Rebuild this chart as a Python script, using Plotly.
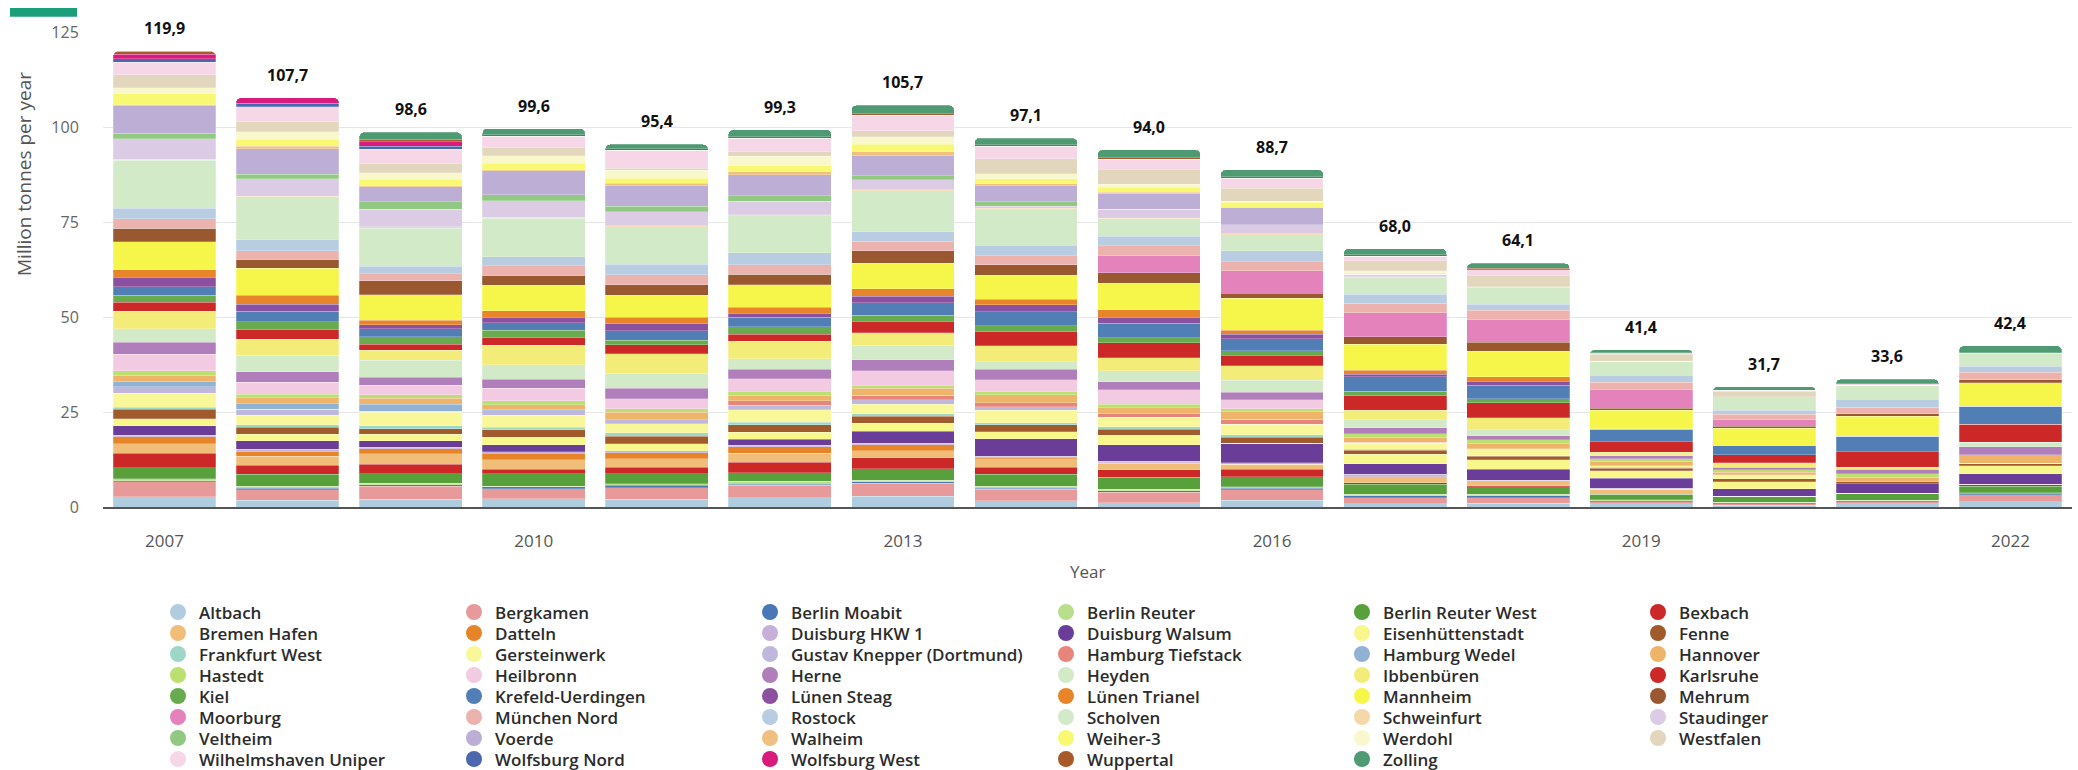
import plotly.graph_objects as go

years = [2007, 2008, 2009, 2010, 2011, 2012, 2013, 2014, 2015, 2016, 2017, 2018, 2019, 2020, 2021, 2022]

# Annual CO2 emissions per coal plant, million tonnes
altbach = [2.7, 1.8, 2.0, 2.2, 2.0, 2.5, 2.8, 1.6, 1.1, 1.8, 0.8, 1.0, 0.8, 0.5, 0.8, 1.4]
bergkamen = [3.9, 2.8, 3.5, 2.6, 3.1, 3.2, 3.5, 3.1, 2.8, 2.8, 1.7, 1.5, 0.6, 0.4, 0.6, 1.8]
berlin_moabit = [0.3, 0.3, 0.3, 0.5, 0.6, 0.3, 0.3, 0.3, 0.4, 0.4, 0.5, 0.5, 0.3, 0.2, 0.2, 0.4]
berlin_reuter = [0.5, 0.5, 0.4, 0.2, 0.4, 0.8, 0.4, 0.4, 0.4, 0.3, 0.3, 0.4, 0.2, 0.2, 0.2, 0.2]
berlin_reuter_west = [2.9, 3.2, 2.6, 3.3, 2.6, 2.2, 3.1, 3.2, 3.1, 2.6, 2.7, 1.9, 1.5, 1.5, 1.8, 1.6]
bexbach = [3.9, 2.4, 2.4, 1.2, 1.7, 2.8, 2.8, 1.9, 2.0, 2.0, 0.4, 0.3, 0, 0, 0, 0.6]
bremen_hafen = [2.5, 2.4, 2.8, 2.5, 2.3, 2.4, 1.9, 2.2, 1.7, 1.3, 1.5, 1.3, 1.3, 0, 0, 0]
datteln = [1.8, 1.2, 1.3, 1.6, 1.6, 1.6, 1.6, 0.4, 0.2, 0, 0, 0, 0, 0, 0, 0]
duisburg_hkw1 = [0.4, 0.6, 0.4, 0.4, 0.5, 0.4, 0.4, 0.3, 0.3, 0.4, 0.7, 0.2, 0.2, 0, 0, 0]
duisburg_walsum = [2.5, 2.2, 1.8, 1.9, 0, 1.6, 3.1, 4.6, 4.4, 5.0, 2.8, 2.9, 2.7, 2.0, 2.5, 2.7]
eisenhuettenstadt = [1.8, 1.8, 1.6, 1.9, 1.8, 1.9, 2.2, 1.8, 2.5, 0.2, 2.5, 2.4, 2.0, 1.9, 0, 2.1]
fenne = [2.5, 1.8, 1.5, 2.0, 2.0, 2.0, 1.8, 1.8, 1.5, 1.5, 1.1, 0.9, 0.6, 0.7, 0.6, 0.7]
frankfurt_west = [0.6, 0.7, 0.8, 0.7, 0.9, 0.6, 0.6, 0.6, 0.7, 0.7, 0.2, 0.2, 0.2, 0, 0, 0]
gersteinwerk = [3.7, 2.4, 3.6, 3.2, 2.4, 3.3, 2.5, 3.3, 2.5, 2.8, 1.6, 1.8, 0.5, 1.1, 0, 0]
gustav_knepper = [1.6, 1.6, 0.2, 1.1, 1.1, 1.2, 1.2, 0.9, 0, 0, 0, 0, 0, 0, 0, 0]
hamburg_tiefstack = [0, 0, 0, 0, 0, 1.1, 1.2, 1.1, 1.0, 1.3, 0.2, 0, 0, 0, 0, 0]
hamburg_wedel = [1.5, 1.5, 1.8, 0.3, 0, 0, 0, 0, 0, 0, 0, 0, 0, 0, 0, 0]
hannover = [1.6, 1.6, 1.6, 1.3, 1.9, 1.5, 1.9, 2.0, 1.5, 2.0, 1.3, 1.5, 1.1, 0.7, 1.1, 2.2]
hastedt = [1.1, 0.9, 0.9, 1.1, 0.9, 1.1, 0.7, 0.8, 0.9, 0.7, 1.0, 0.9, 0.7, 0.6, 0.9, 0]
heilbronn = [4.4, 3.1, 2.6, 3.2, 2.7, 3.2, 3.9, 3.2, 3.8, 2.4, 0, 0, 0, 0, 0, 0]
herne = [3.2, 2.8, 2.1, 2.4, 2.8, 2.5, 2.8, 2.8, 2.2, 2.0, 1.5, 1.1, 0.8, 0.7, 1.3, 2.2]
heyden = [3.5, 4.4, 4.4, 3.9, 3.9, 2.8, 3.9, 1.9, 2.8, 3.1, 2.1, 1.5, 0.2, 0, 0, 1.1]
ibbenbueren = [4.6, 4.2, 2.6, 5.1, 5.1, 4.6, 3.2, 4.2, 3.5, 3.9, 2.6, 3.2, 0.7, 1.2, 0.4, 0]
karlsruhe = [2.4, 2.4, 1.6, 2.0, 2.4, 1.9, 3.1, 3.7, 3.9, 2.8, 3.8, 3.9, 2.8, 2.1, 4.1, 4.8]
kiel = [1.8, 2.1, 2.0, 1.9, 1.2, 2.0, 1.6, 1.6, 1.3, 1.1, 1.1, 1.1, 0, 0, 0, 0]
krefeld_uerdingen = [2.3, 2.8, 2.1, 2.0, 2.5, 2.4, 3.2, 3.7, 3.9, 3.2, 3.9, 3.5, 3.2, 2.4, 4.1, 4.7]
luenen_steag = [2.4, 1.9, 1.1, 1.5, 1.8, 1.1, 1.8, 1.8, 1.5, 1.1, 0.6, 1.1, 0, 0, 0, 0]
luenen_trianel = [2.0, 2.3, 1.1, 1.6, 1.7, 1.6, 1.9, 1.5, 2.0, 1.1, 1.1, 1.2, 0.2, 0, 0, 0]
mannheim = [7.4, 7.1, 6.8, 6.8, 5.8, 5.9, 6.8, 6.3, 7.0, 8.4, 6.8, 6.7, 4.8, 4.5, 5.3, 6.2]
mehrum = [3.5, 2.4, 3.6, 2.6, 2.8, 2.8, 3.2, 2.7, 2.8, 1.4, 2.0, 2.4, 0.6, 0.5, 0.6, 0.8]
moorburg = [0, 0, 0, 0, 0, 0, 0, 0, 4.4, 5.9, 6.3, 5.9, 4.8, 1.7, 0, 0]
muenchen_nord = [2.5, 2.3, 1.9, 2.5, 2.6, 2.5, 2.6, 2.4, 2.6, 2.4, 2.5, 2.5, 2.0, 1.5, 1.8, 2.0]
rostock = [2.8, 2.8, 1.9, 2.4, 2.8, 3.1, 2.5, 2.8, 2.5, 2.9, 2.4, 1.6, 1.9, 1.1, 2.0, 1.6]
scholven = [12.7, 11.3, 10.1, 10.1, 9.8, 9.7, 10.7, 9.3, 4.6, 4.2, 4.4, 4.4, 3.6, 3.5, 3.7, 3.2]
schweinfurt = [0.2, 0.2, 0.4, 0.3, 0.3, 0.3, 0.3, 0.4, 0.2, 0.2, 0.2, 0.2, 0, 0, 0, 0]
staudinger = [5.4, 4.6, 4.6, 4.3, 3.7, 3.5, 2.6, 0.6, 2.4, 2.4, 0.6, 0, 0, 0, 0, 0]
veltheim = [1.4, 1.2, 1.9, 1.6, 1.4, 1.5, 1.1, 1.1, 0, 0, 0, 0, 0, 0, 0, 0]
voerde = [7.3, 6.7, 4.0, 6.3, 5.6, 5.5, 5.4, 4.4, 4.2, 4.6, 0, 0, 0, 0, 0, 0]
walheim = [0.3, 0.6, 0.2, 0.3, 0.5, 0.8, 0.9, 0.4, 0.2, 0, 0, 0, 0, 0, 0, 0]
weiher_3 = [2.8, 1.9, 1.8, 1.6, 1.3, 1.6, 2.0, 1.3, 1.3, 1.3, 0.5, 0, 0, 0, 0, 0.3]
werdohl = [1.6, 2.0, 1.6, 2.1, 2.1, 2.5, 1.9, 1.3, 0.9, 0.2, 0.5, 0, 0, 0, 0, 0]
westfalen = [3.5, 2.6, 2.6, 2.0, 0.6, 1.2, 1.6, 3.9, 3.9, 3.5, 2.6, 2.8, 1.9, 1.5, 0, 0]
wilhelmshaven_uniper = [3.2, 3.9, 3.7, 3.1, 4.7, 3.5, 4.1, 3.3, 2.6, 2.6, 1.2, 1.6, 0.4, 0.2, 0.4, 0]
wolfsburg_nord = [0.9, 0.9, 0.7, 0, 0, 0, 0, 0, 0, 0, 0, 0, 0, 0, 0, 0]
wolfsburg_west = [1.2, 1.5, 1.2, 0, 0, 0, 0, 0, 0, 0, 0, 0, 0, 0, 0, 0]
wuppertal = [0.8, 0, 0.7, 0.4, 0.4, 0.4, 0.4, 0.4, 0.4, 0.4, 0.4, 0.4, 0, 0, 0, 0]
zolling = [0, 0, 1.8, 1.6, 1.1, 1.9, 2.2, 1.8, 2.1, 1.8, 1.6, 1.3, 0.8, 1.0, 1.2, 1.8]

plants = [
    ("Altbach", altbach, "#b0cde0"),
    ("Bergkamen", bergkamen, "#e89a9a"),
    ("Berlin Moabit", berlin_moabit, "#4878b5"),
    ("Berlin Reuter", berlin_reuter, "#b8df8c"),
    ("Berlin Reuter West", berlin_reuter_west, "#57a03c"),
    ("Bexbach", bexbach, "#cc2828"),
    ("Bremen Hafen", bremen_hafen, "#f0be78"),
    ("Datteln", datteln, "#e88428"),
    ("Duisburg HKW 1", duisburg_hkw1, "#c6b0d8"),
    ("Duisburg Walsum", duisburg_walsum, "#6a3d98"),
    ("Eisenhüttenstadt", eisenhuettenstadt, "#f7f78c"),
    ("Fenne", fenne, "#a05a2c"),
    ("Frankfurt West", frankfurt_west, "#9ed6c8"),
    ("Gersteinwerk", gersteinwerk, "#f8f89a"),
    ("Gustav Knepper (Dortmund)", gustav_knepper, "#bfb8dc"),
    ("Hamburg Tiefstack", hamburg_tiefstack, "#e8857a"),
    ("Hamburg Wedel", hamburg_wedel, "#92b2d4"),
    ("Hannover", hannover, "#eeb46a"),
    ("Hastedt", hastedt, "#bbe070"),
    ("Heilbronn", heilbronn, "#f2cbe2"),
    ("Herne", herne, "#b07eba"),
    ("Heyden", heyden, "#d2eac8"),
    ("Ibbenbüren", ibbenbueren, "#f4ec78"),
    ("Karlsruhe", karlsruhe, "#cc2828"),
    ("Kiel", kiel, "#67ab4e"),
    ("Krefeld-Uerdingen", krefeld_uerdingen, "#507eb5"),
    ("Lünen Steag", luenen_steag, "#8b50a0"),
    ("Lünen Trianel", luenen_trianel, "#e8842a"),
    ("Mannheim", mannheim, "#f6f64a"),
    ("Mehrum", mehrum, "#9a5830"),
    ("Moorburg", moorburg, "#e482bc"),
    ("München Nord", muenchen_nord, "#ebb2ae"),
    ("Rostock", rostock, "#b8cce2"),
    ("Scholven", scholven, "#d2eac8"),
    ("Schweinfurt", schweinfurt, "#f4d8a8"),
    ("Staudinger", staudinger, "#dccbe4"),
    ("Veltheim", veltheim, "#92c982"),
    ("Voerde", voerde, "#bcaed4"),
    ("Walheim", walheim, "#f0c080"),
    ("Weiher-3", weiher_3, "#f8f872"),
    ("Werdohl", werdohl, "#f8f8cc"),
    ("Westfalen", westfalen, "#e2d7bd"),
    ("Wilhelmshaven Uniper", wilhelmshaven_uniper, "#f6d7e8"),
    ("Wolfsburg Nord", wolfsburg_nord, "#4a67b0"),
    ("Wolfsburg West", wolfsburg_west, "#d81b7c"),
    ("Wuppertal", wuppertal, "#a85a28"),
    ("Zolling", zolling, "#4e9a72"),
]

FONT = "Open Sans, Lato, sans-serif"

# figure geometry (pixels)
W, H = 2078, 770
ML, MR, MT, MB = 103, 6, 32, 263
PW, PH = W - ML - MR, H - MT - MB


def px_x(px):
    return (px - ML) / PW


def px_y(py):
    return (H - MB - py) / PH


fig = go.Figure()

for name, vals, color in plants:
    fig.add_trace(go.Bar(
        x=years, y=vals, name=name, showlegend=False,
        marker=dict(color=color, line=dict(width=0.4, color="rgba(255,255,255,0.6)")),
        hovertemplate=name + ": %{y:.1f}<extra></extra>",
    ))

# stack totals above each bar
totals = [round(sum(vals[i] for _, vals, _ in plants), 1) for i in range(len(years))]
for yr, tot in zip(years, totals):
    fig.add_annotation(
        x=yr, y=tot, text=f"{tot:.1f}".replace(".", ","), showarrow=False,
        yanchor="bottom", yshift=10,
        font=dict(family=FONT, size=16, color="#111111", weight="bold"),
    )

# legend: six columns of round swatches with plant names
COLS, COL_W, ROW_H = 6, 296, 21
LEG_X0, LEG_Y0, DOT_R = 178, 612, 8
for i, (name, _, color) in enumerate(plants):
    cx = LEG_X0 + COL_W * (i % COLS)
    cy = LEG_Y0 + ROW_H * (i // COLS)
    fig.add_shape(
        type="circle", xref="paper", yref="paper",
        x0=px_x(cx - DOT_R), x1=px_x(cx + DOT_R),
        y0=px_y(cy + DOT_R), y1=px_y(cy - DOT_R),
        fillcolor=color, line=dict(width=0),
    )
    fig.add_annotation(
        xref="paper", yref="paper", x=px_x(cx + 19), y=px_y(cy),
        text=name, showarrow=False, xanchor="left", yanchor="middle",
        font=dict(family=FONT, size=17, color="#2b2b2b", weight=600),
    )

# axis titles
fig.add_annotation(
    xref="paper", yref="paper", x=px_x(24), y=px_y(174), text="Million tonnes per year",
    textangle=-90, showarrow=False, xanchor="center", yanchor="middle",
    font=dict(family=FONT, size=19, color="#555555"),
)
fig.add_annotation(
    xref="paper", yref="paper", x=0.5, y=px_y(571), text="Year",
    showarrow=False, xanchor="center", yanchor="middle",
    font=dict(family=FONT, size=17, color="#555555"),
)

# accent bar in the top-left corner
fig.add_shape(
    type="rect", xref="paper", yref="paper",
    x0=px_x(10), x1=px_x(77), y0=px_y(16.7), y1=px_y(8),
    fillcolor="#1b9e7a", line=dict(width=0),
)

fig.update_layout(
    width=W, height=H,
    margin=dict(l=ML, r=MR, t=MT, b=MB, autoexpand=False),
    barmode="stack", bargap=0.165, barcornerradius=5,
    paper_bgcolor="white", plot_bgcolor="white",
    font=dict(family=FONT, color="#333333"),
    showlegend=False,
    xaxis=dict(
        range=[2006.5, 2022.5], tickmode="linear", tick0=2007, dtick=3,
        showgrid=False, showline=True, linecolor="#555555", linewidth=2,
        ticks="outside", ticklen=18, tickcolor="rgba(0,0,0,0)",
        tickfont=dict(family=FONT, size=17, color="#555555"),
        zeroline=False,
    ),
    yaxis=dict(
        range=[0, 125], tickvals=[0, 25, 50, 75, 100, 125],
        showgrid=True, gridcolor="#e6e6e6", gridwidth=1, zeroline=False,
        ticks="outside", ticklen=20, tickcolor="rgba(0,0,0,0)",
        tickfont=dict(family=FONT, size=16, color="#666666"),
    ),
)

fig.write_html("out.html")
